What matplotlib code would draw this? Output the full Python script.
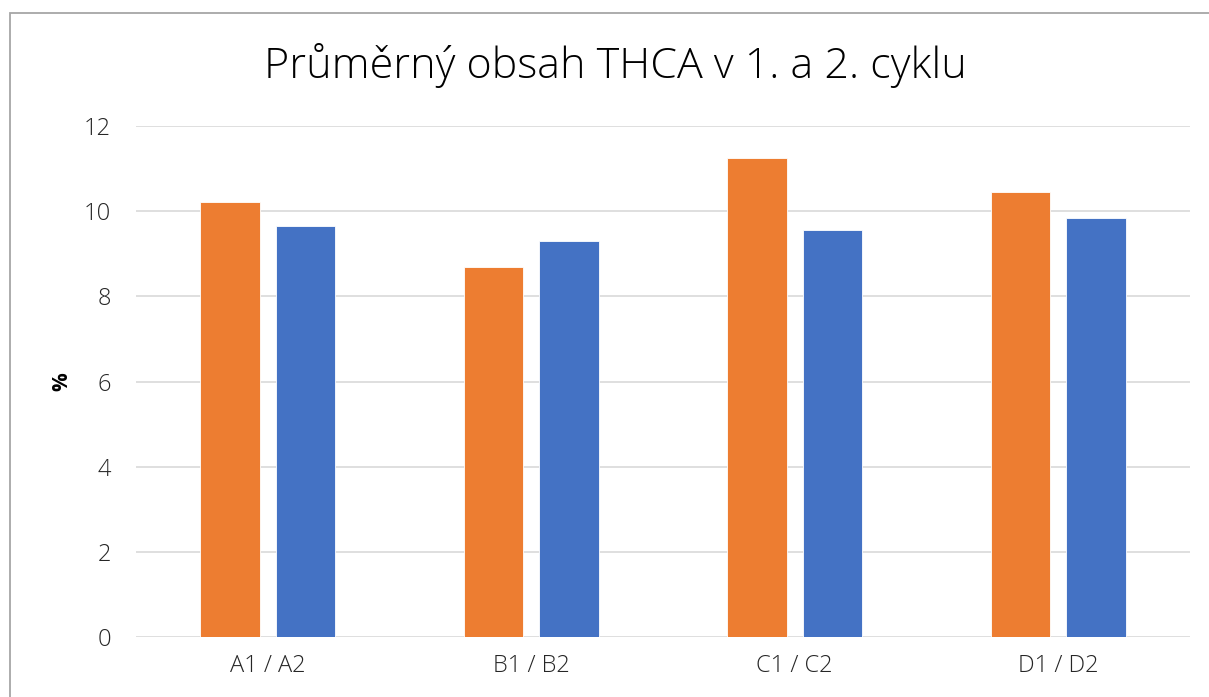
import numpy as np
import matplotlib.pyplot as plt
from matplotlib.patches import Rectangle

# Data
categories = ["A1 / A2", "B1 / B2", "C1 / C2", "D1 / D2"]
cycle_1 = [10.22, 8.70, 11.24, 10.45]
cycle_2 = [9.65, 9.31, 9.56, 9.85]
yticks = [0, 2, 4, 6, 8, 10, 12]

W, H = 1209, 697
fig = plt.figure(figsize=(W / 100, H / 100), dpi=100)
plt.rcParams["font.family"] = ["Open Sans", "DejaVu Sans"]

# Plot area in pixels: x 136..1190, y 126..637
ax = fig.add_axes([136 / W, 1 - 637.3 / H, (1190 - 136) / W, (637.3 - 126) / H])

x = np.arange(len(categories))
width = 0.225
offset = 0.143
ax.bar(x - offset, cycle_1, width, color="#ED7D31", edgecolor="white", linewidth=0.6, zorder=3)
ax.bar(x + offset, cycle_2, width, color="#4472C4", edgecolor="white", linewidth=0.6, zorder=3)

# Formatting
ax.set_xlim(-0.5, len(categories) - 0.5)
ax.set_ylim(0, 12)
ax.set_yticks(yticks)
ax.set_xticks(x)
ax.set_xticklabels(categories)
ax.grid(axis="y", color="#D9D9D9", linewidth=1.2, zorder=0)
for s in ax.spines.values():
	s.set_visible(False)
ax.tick_params(axis="both", length=0, labelsize=17, colors="#262626")
ax.tick_params(axis="y", pad=18)
ax.tick_params(axis="x", pad=12)
for lbl in ax.get_xticklabels() + ax.get_yticklabels():
	lbl.set_fontweight("light")

fig.text(62 / W, 1 - 382 / H, "%", rotation=90, ha="center", va="center",
	fontsize=15, fontweight="bold", color="black")

fig.text(615 / W, 1 - 66 / H, "Průměrný obsah THCA v 1. a 2. cyklu",
	ha="center", va="center", fontsize=31, fontweight="light", color="black")

# Chart area border (left and top visible)
fig.patches.append(Rectangle((10 / W, -0.05), 1.1, 1 - 13 / H + 0.05,
	transform=fig.transFigure, fill=False, edgecolor="#A6A6A6", linewidth=1.3))

fig.savefig("out.png", dpi=100)
